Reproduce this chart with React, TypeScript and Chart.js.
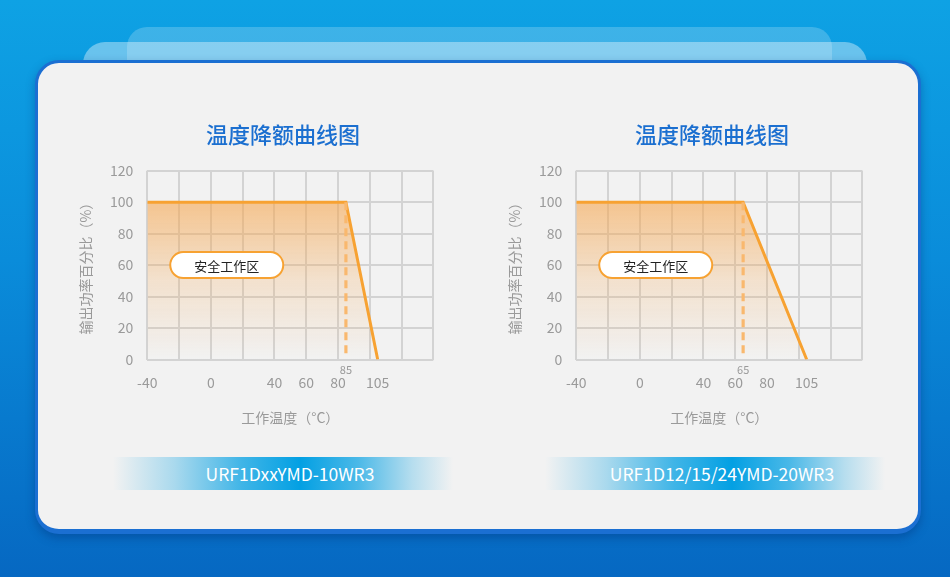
import { useEffect, useRef } from "react";
import { Chart, registerables } from "chart.js";

Chart.register(...registerables);

// chart data
const CHART_TITLE = "温度降额曲线图";
const X_TITLE = "工作温度（°C）";
const Y_TITLE = "输出功率百分比（%）";
const SAFE_LABEL = "安全工作区";
const SAFE_LABEL_AT = [10, 60]; // temperature, percent

const X_TICKS = [-40, -20, 0, 20, 40, 60, 80, 100, 105, 120, 140];
const X_LABELS_SHOWN = [-40, 0, 40, 60, 80, 105];
const Y_TICKS = [0, 20, 40, 60, 80, 100, 120];

const LEFT_MODEL = "URF1DxxYMD-10WR3";
const LEFT_TEMPS = [-40, 85, 105];
const LEFT_POWER = [100, 100, 0];
const LEFT_KNEE = 85;

const RIGHT_MODEL = "URF1D12/15/24YMD-20WR3";
const RIGHT_TEMPS = [-40, 65, 105];
const RIGHT_POWER = [100, 100, 0];
const RIGHT_KNEE = 65;

const FONT = '"Noto Sans CJK SC", "Noto Sans", sans-serif';
const ORANGE = "#f7a232";
const GRID = "#d3d3d3";
const GRAY = "#9a9a9a";

interface PanelProps {
  temps: number[];
  power: number[];
  knee: number;
  left: number;
}

const DeratingChart: React.FC<PanelProps> = ({ temps, power, knee, left }) => {
  const canvasRef = useRef<HTMLCanvasElement | null>(null);
  const chartRef = useRef<Chart | null>(null);

  useEffect(() => {
    if (!canvasRef.current) return;
    if (chartRef.current) chartRef.current.destroy();

    // title centred on the canvas, pill label, small knee label
    const extras = {
      id: "extras",
      afterDatasetsDraw(chart: any) {
        const { ctx, scales, chartArea } = chart;
        ctx.save();
        ctx.textAlign = "center";
        ctx.textBaseline = "middle";

        ctx.fillStyle = "#1b6fd0";
        ctx.font = `500 22px ${FONT}`;
        ctx.fillText(CHART_TITLE, chart.width / 2, 23);

        const px = scales.x.getPixelForValue(SAFE_LABEL_AT[0]);
        const py = scales.y.getPixelForValue(SAFE_LABEL_AT[1]);
        const w = 113;
        const h = 26;
        ctx.beginPath();
        ctx.roundRect(px - w / 2, py - h / 2, w, h, h / 2);
        ctx.fillStyle = "#ffffff";
        ctx.fill();
        ctx.lineWidth = 2;
        ctx.strokeStyle = ORANGE;
        ctx.stroke();
        ctx.fillStyle = "#222222";
        ctx.font = `13px ${FONT}`;
        ctx.fillText(SAFE_LABEL, px, py + 1);

        ctx.fillStyle = GRAY;
        ctx.font = `11px ${FONT}`;
        ctx.fillText(String(knee), scales.x.getPixelForValue(knee), chartArea.bottom + 10);
        ctx.restore();
      },
    };

    chartRef.current = new Chart(canvasRef.current, {
      type: "line",
      data: {
        datasets: [
          {
            label: "curve",
            data: temps.map((t, i) => ({ x: t, y: power[i] })),
            borderColor: ORANGE,
            borderWidth: 3,
            pointRadius: 0,
            fill: "origin",
            backgroundColor: (ctx: any) => {
              const area = ctx.chart.chartArea;
              if (!area) return "rgba(245,165,80,0.4)";
              const top = ctx.chart.scales.y.getPixelForValue(100);
              const g = ctx.chart.ctx.createLinearGradient(0, top, 0, area.bottom);
              g.addColorStop(0, "rgba(246,166,78,0.6)");
              g.addColorStop(0.5, "rgba(246,166,78,0.22)");
              g.addColorStop(1, "rgba(246,166,78,0.0)");
              return g;
            },
            order: 2,
          },
          {
            label: "knee",
            data: [
              { x: knee, y: 100 },
              { x: knee, y: 1 },
            ],
            borderColor: "#f9b86e",
            borderWidth: 3.2,
            borderDash: [8, 5],
            pointRadius: 0,
            fill: false,
            order: 1,
          },
        ],
      },
      options: {
        animation: false,
        responsive: false,
        layout: { padding: { left: 0, right: 69.7, bottom: 5.6, top: 58.7 } },
        plugins: {
          legend: { display: false },
          tooltip: { enabled: false },
          title: { display: false },
        },
        scales: {
          x: {
            type: "linear",
            min: -40,
            max: 140,
            afterBuildTicks: (scale: any) => {
              scale.ticks = X_TICKS.map((v) => ({ value: v }));
            },
            afterFit: (scale: any) => {
              scale.height = 66.9;
            },
            ticks: {
              autoSkip: false,
              maxRotation: 0,
              padding: 15,
              color: GRAY,
              font: { family: FONT, size: 14 },
              callback: (v: any) => (X_LABELS_SHOWN.includes(Number(v)) ? String(v) : ""),
            },
            grid: {
              color: (ctx: any) => (ctx.tick && ctx.tick.value === 105 ? "rgba(0,0,0,0)" : GRID),
              lineWidth: 2,
              drawTicks: false,
            },
            border: { display: false },
            title: {
              display: true,
              text: X_TITLE,
              color: GRAY,
              font: { family: FONT, size: 14 },
              padding: { top: 0, bottom: 0 },
            },
          },
          y: {
            min: 0,
            max: 120,
            afterBuildTicks: (scale: any) => {
              scale.ticks = Y_TICKS.map((v) => ({ value: v }));
            },
            afterFit: (scale: any) => {
              scale.width = 84.3;
            },
            ticks: {
              padding: 14,
              color: GRAY,
              font: { family: FONT, size: 14 },
            },
            grid: { color: GRID, lineWidth: 2, drawTicks: false },
            border: { display: false },
            title: {
              display: true,
              text: Y_TITLE,
              color: GRAY,
              font: { family: FONT, size: 14 },
              padding: { top: 14, bottom: 0 },
            },
          },
        },
      },
      plugins: [extras],
    } as any);

    return () => {
      if (chartRef.current) {
        chartRef.current.destroy();
        chartRef.current = null;
      }
    };
  }, [temps, power, knee]);

  return (
    <canvas
      ref={canvasRef}
      width={440}
      height={320}
      style={{ position: "absolute", left, top: 112, width: 440, height: 320 }}
    />
  );
};

const ModelBand: React.FC<{ text: string; left: number }> = ({ text, left }) => (
  <div
    style={{
      position: "absolute",
      left,
      top: 457,
      width: 340,
      height: 33,
      background:
        "linear-gradient(90deg, rgba(3,160,227,0) 0%, rgba(3,160,227,0.3) 18%, rgba(3,160,227,0.75) 38%, #03a0e3 55%, rgba(3,160,227,0.7) 72%, rgba(3,160,227,0.25) 88%, rgba(3,160,227,0) 100%)",
      color: "#ffffff",
      fontFamily: FONT,
      fontSize: 17.5,
      lineHeight: "33px",
      textAlign: "center",
      paddingLeft: 14,
      boxSizing: "border-box",
    }}
  >
    {text}
  </div>
);

export default function App() {
  return (
    <div
      style={{
        position: "fixed",
        left: 0,
        top: 0,
        width: 950,
        height: 577,
        overflow: "hidden",
        background: "linear-gradient(180deg, #0ea2e4 0%, #0a8cda 45%, #0668c2 100%)",
      }}
    >
      <div
        style={{
          position: "absolute",
          left: 127,
          top: 27,
          width: 705,
          height: 80,
          borderRadius: 20,
          background: "rgba(255,255,255,0.2)",
        }}
      />
      <div
        style={{
          position: "absolute",
          left: 83,
          top: 42,
          width: 784,
          height: 80,
          borderRadius: 22,
          background: "rgba(255,255,255,0.38)",
        }}
      />
      <div
        style={{
          position: "absolute",
          left: 35,
          top: 60,
          width: 886,
          height: 474,
          boxSizing: "border-box",
          borderRadius: 24,
          border: "3px solid #1b6fd2",
          borderBottomWidth: 5,
          background: "#f2f2f2",
          boxShadow: "0 4px 10px rgba(0,40,110,0.35)",
        }}
      />
      <DeratingChart temps={LEFT_TEMPS} power={LEFT_POWER} knee={LEFT_KNEE} left={63} />
      <DeratingChart temps={RIGHT_TEMPS} power={RIGHT_POWER} knee={RIGHT_KNEE} left={491.7} />
      <ModelBand text={LEFT_MODEL} left={113} />
      <ModelBand text={RIGHT_MODEL} left={545} />
    </div>
  );
}
